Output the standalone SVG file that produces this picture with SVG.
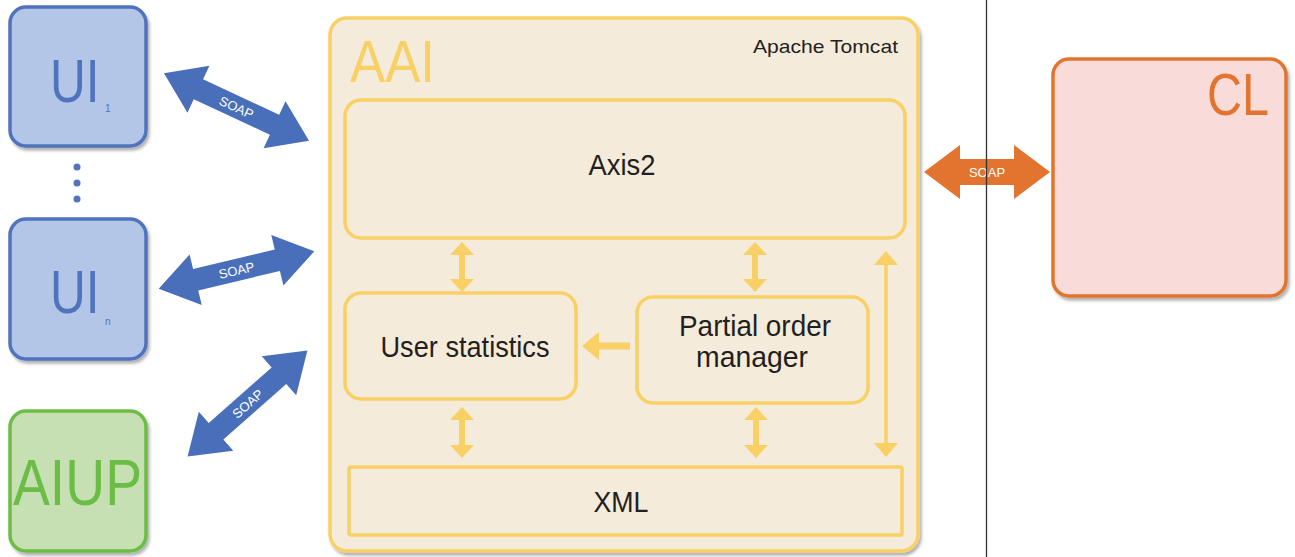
<svg xmlns="http://www.w3.org/2000/svg" width="1295" height="557" viewBox="0 0 1295 557">
  <style>
    text { font-family: "Liberation Sans", Arial, sans-serif; }
    .lbl { fill: #231f20; font-size: 29px; text-anchor: middle; }
    .soap { fill: #ffffff; font-size: 13px; text-anchor: middle; }
    .blue { fill: #b4c6e7; stroke: #4f73bd; stroke-width: 3.5; }
    .green { fill: #c6e0b4; stroke: #6cbd45; stroke-width: 3.5; }
    .orange { fill: #f9dcda; stroke: #e2742f; stroke-width: 3.5; }
    .aai { fill: #f5ebda; stroke: #f8d065; stroke-width: 3.5; }
    .inner { fill: none; stroke: #f8d065; stroke-width: 3.5; }
    .yarrow { fill: #f8d065; }
    .barrow { fill: #4a6fba; }
  </style>
  <defs>
    <filter id="shadow" x="-10%" y="-10%" width="130%" height="130%">
      <feDropShadow dx="2" dy="3" stdDeviation="1.5" flood-color="#000" flood-opacity="0.3"/>
    </filter>
    <!-- double-headed block arrow, centred on the origin along the x axis -->
    <path id="dblArrow" d="M-80,0 L-42,-26 L-42,-11 L42,-11 L42,-26 L80,0 L42,26 L42,11 L-42,11 L-42,26 Z"/>
  </defs>

  <rect width="1295" height="557" fill="#ffffff"/>

  <!-- client nodes -->
  <g id="ui1">
    <rect class="blue" x="10" y="7" width="136" height="139" rx="16" filter="url(#shadow)"/>
    <text transform="translate(50,102) scale(0.8,1)" font-size="62" fill="#4f73bd">UI</text>
    <text x="105" y="112" font-size="10" fill="#4f73bd">1</text>
  </g>
  <g id="dots" fill="#4f73bd">
    <circle cx="77" cy="167" r="3.5"/>
    <circle cx="77" cy="183" r="3.5"/>
    <circle cx="77" cy="199" r="3.5"/>
  </g>
  <g id="uin">
    <rect class="blue" x="10" y="219" width="136" height="140" rx="16" filter="url(#shadow)"/>
    <text transform="translate(50,313) scale(0.8,1)" font-size="62" fill="#4f73bd">UI</text>
    <text x="105" y="325" font-size="10" fill="#4f73bd">n</text>
  </g>
  <g id="aiup">
    <rect class="green" x="10" y="411" width="136" height="140" rx="16" filter="url(#shadow)"/>
    <text x="13" y="505" font-size="64" fill="#6cbd45" textLength="129" lengthAdjust="spacingAndGlyphs">AIUP</text>
  </g>

  <!-- server container -->
  <g id="aai">
    <rect class="aai" x="330" y="18" width="588" height="533" rx="17" filter="url(#shadow)"/>
    <text x="350" y="82" font-size="60" fill="#f8d065" textLength="85" lengthAdjust="spacingAndGlyphs">AAI</text>
    <text x="898" y="53" font-size="19" fill="#231f20" text-anchor="end" textLength="145" lengthAdjust="spacingAndGlyphs">Apache Tomcat</text>
  </g>
  <g id="axis2">
    <rect class="inner" x="345" y="100" width="560" height="138" rx="16"/>
    <text class="lbl" x="622" y="175" textLength="67" lengthAdjust="spacingAndGlyphs">Axis2</text>
  </g>
  <g id="user-statistics">
    <rect class="inner" x="345" y="293" width="231" height="106" rx="16"/>
    <text class="lbl" x="465" y="357" textLength="169" lengthAdjust="spacingAndGlyphs">User statistics</text>
  </g>
  <g id="partial-order-manager">
    <rect class="inner" x="637" y="297" width="231" height="106" rx="16"/>
    <text class="lbl" x="755" y="336" textLength="152" lengthAdjust="spacingAndGlyphs">Partial order</text>
    <text class="lbl" x="752" y="367" textLength="112" lengthAdjust="spacingAndGlyphs">manager</text>
  </g>
  <g id="xml">
    <rect class="inner" x="349" y="467" width="553" height="68" rx="2"/>
    <text class="lbl" x="621" y="512" textLength="55" lengthAdjust="spacingAndGlyphs">XML</text>
  </g>

  <!-- external component -->
  <g id="cl">
    <rect class="orange" x="1053" y="59" width="233" height="237" rx="16" filter="url(#shadow)"/>
    <text x="1207" y="115" font-size="60" fill="#e2742f" textLength="62" lengthAdjust="spacingAndGlyphs">CL</text>
  </g>

  <!-- connectors -->
  <g id="connectors">
    <g transform="translate(236.5,107) rotate(25)">
      <use href="#dblArrow" class="barrow"/>
      <text class="soap" x="0" y="5">SOAP</text>
    </g>
    <g transform="translate(236.5,270) rotate(-13.5)">
      <use href="#dblArrow" class="barrow"/>
      <text class="soap" x="0" y="5">SOAP</text>
    </g>
    <g transform="translate(247.5,403.5) rotate(-41.5)">
      <use href="#dblArrow" class="barrow"/>
      <text class="soap" x="0" y="5">SOAP</text>
    </g>
    <g transform="translate(987,172)">
      <path fill="#e2742f" d="M-63,0 L-27,-27 L-27,-13 L27,-13 L27,-27 L63,0 L27,27 L27,13 L-27,13 L-27,27 Z"/>
      <text class="soap" x="0" y="5" font-size="14">SOAP</text>
    </g>
    <path class="yarrow" d="M462,242 L474,255 L465,255 L465,279 L474,279 L462,292 L450,279 L459,279 L459,255 L450,255 Z"/>
    <path class="yarrow" d="M755,242 L767,255 L758,255 L758,279 L767,279 L755,292 L743,279 L752,279 L752,255 L743,255 Z"/>
    <path class="yarrow" d="M462,407 L474,420 L465,420 L465,445 L474,445 L462,458 L450,445 L459,445 L459,420 L450,420 Z"/>
    <path class="yarrow" d="M756,407 L768,420 L759,420 L759,445 L768,445 L756,458 L744,445 L753,445 L753,420 L744,420 Z"/>
    <path class="yarrow" d="M886,251 L898,265 L887.75,265 L887.75,443 L898,443 L886,457 L874,443 L884.25,443 L884.25,265 L874,265 Z"/>
    <path class="yarrow" d="M582,346 L599,332 L599,342.5 L630,342.5 L630,349.5 L599,349.5 L599,360 Z"/>
  </g>

  <!-- boundary line -->
  <line x1="986.5" y1="0" x2="986.5" y2="557" stroke="#333333" stroke-width="1.3"/>
</svg>
